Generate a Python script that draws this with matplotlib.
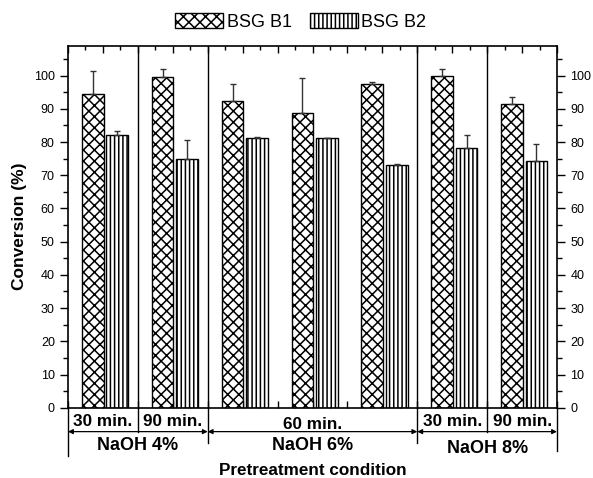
import matplotlib
matplotlib.use("Agg")
import matplotlib.pyplot as plt
from matplotlib.ticker import MultipleLocator
import numpy as np

plt.rcParams['font.family'] = ['Liberation Sans', 'DejaVu Sans']
plt.rcParams['hatch.linewidth'] = 1.1

# data
groups = ['30 min.', '90 min.', '60 min. a', '60 min. b', '60 min. c', '30 min.', '90 min.']
b1 = [94.4, 99.5, 92.5, 88.7, 97.6, 99.9, 91.3]
b1_err = [7.1, 2.6, 4.9, 10.5, 0.4, 2.1, 2.3]
b2 = [82.2, 74.8, 81.3, 81.1, 73.1, 78.1, 74.4]
b2_err = [1.1, 5.7, 0.3, 0.2, 0.4, 4.0, 4.9]

time_labels = ['30 min.', '90 min.', '60 min.', '30 min.', '90 min.']
time_spans = [(0, 1), (1, 2), (2, 5), (5, 6), (6, 7)]
naoh_labels = ['NaOH 4%', 'NaOH 6%', 'NaOH 8%']
naoh_spans = [(0, 2), (2, 5), (5, 7)]

fig = plt.figure(figsize=(5.93, 4.78), dpi=100)
ax = fig.add_axes([0.1147, 0.147, 0.8246, 0.7574])

x = np.arange(len(b1))
w = 0.31
ax.bar(x + 0.355, b1, w, color='white', edgecolor='black', hatch='xxx', lw=1.0, label='BSG B1', zorder=2)
ax.bar(x + 0.705, b2, w, color='white', edgecolor='black', hatch='||||', lw=1.0, label='BSG B2', zorder=2)
ax.errorbar(x + 0.355, b1, yerr=[np.zeros(len(b1)), b1_err], fmt='none', ecolor='#333333', elinewidth=1, capsize=2.5, capthick=1, zorder=3)
ax.errorbar(x + 0.705, b2, yerr=[np.zeros(len(b2)), b2_err], fmt='none', ecolor='#333333', elinewidth=1, capsize=2.5, capthick=1, zorder=3)

ax.set_xlim(0, 7)
ax.set_ylim(0, 109)

# group separators inside the plot
for xv in [1, 2, 5, 6]:
    ax.axvline(xv, color='black', lw=1.0, zorder=1)

ax.yaxis.set_major_locator(MultipleLocator(10))
ax.yaxis.set_minor_locator(MultipleLocator(5))
ax.xaxis.set_major_locator(MultipleLocator(0.5))
ax.xaxis.set_minor_locator(MultipleLocator(0.25))
ax.tick_params(axis='y', which='both', direction='out', left=True, right=True, labelleft=True, labelright=True, labelsize=9)
ax.tick_params(axis='y', which='major', length=6, width=1)
ax.tick_params(axis='y', which='minor', length=3.5, width=1)
ax.tick_params(axis='x', which='both', direction='in', top=True, bottom=True, labelbottom=False)
ax.tick_params(axis='x', which='major', length=5, width=1)
ax.tick_params(axis='x', which='minor', length=3, width=1)
for s in ax.spines.values():
    s.set_linewidth(1.2)

ax.set_ylabel('Conversion (%)', fontsize=12.5, fontweight='bold', labelpad=5)

# annotations below the axis
tr = ax.get_xaxis_transform()
line_ends = {0: -0.134, 1: -0.066, 2: -0.098, 5: -0.098, 6: -0.066, 7: -0.12}
for xv, yend in line_ends.items():
    ax.plot([xv, xv], [0, yend], color='black', lw=1.0, transform=tr, clip_on=False)

for lab, (a, b) in zip(time_labels, time_spans):
    yy = -0.046 if b - a > 1 else -0.039
    ax.text((a + b) / 2, yy, lab, transform=tr, ha='center', va='center', fontsize=12.3, fontweight='bold')

for (a, b) in naoh_spans:
    ax.annotate('', xy=(a, -0.066), xytext=(b, -0.066), xycoords=tr, textcoords=tr,
                arrowprops=dict(arrowstyle='<|-|>', color='black', lw=0.9, mutation_scale=7, shrinkA=0, shrinkB=0))

naoh_y = [-0.103, -0.105, -0.112]
for lab, (a, b), yy in zip(naoh_labels, naoh_spans, naoh_y):
    ax.text((a + b) / 2, yy, lab, transform=tr, ha='center', va='center', fontsize=13, fontweight='bold')

ax.text(3.5, -0.172, 'Pretreatment condition', transform=tr, ha='center', va='center', fontsize=12.3, fontweight='bold')

fig.legend(loc='center', bbox_to_anchor=(0.507, 0.954), ncol=2, frameon=False, fontsize=13,
           handlelength=2.67, handleheight=0.85, handletextpad=0.2, columnspacing=1.0)

fig.savefig('out.png', dpi=100)
